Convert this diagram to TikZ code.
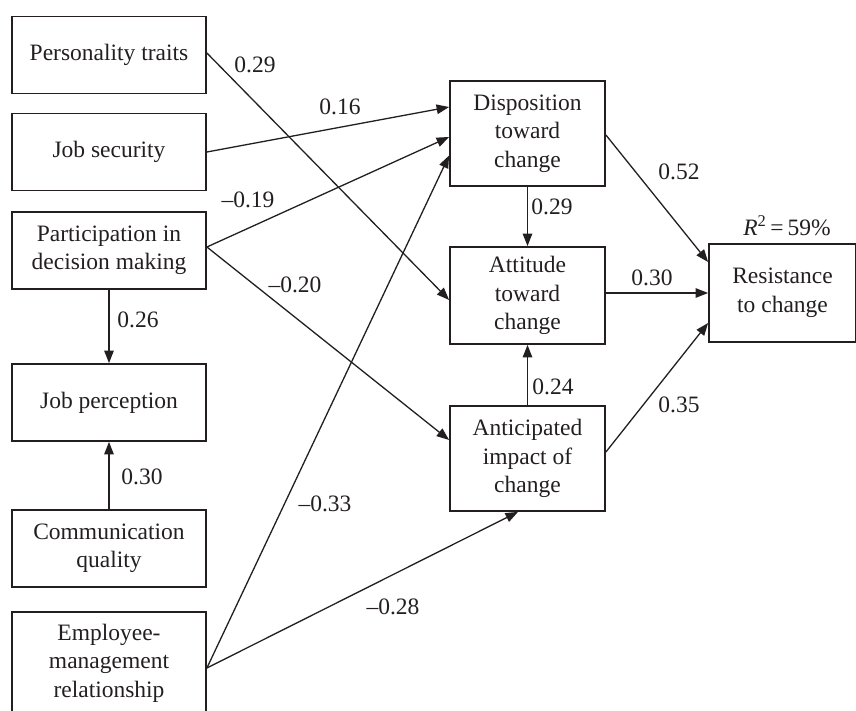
\documentclass[tikz,border=0pt]{standalone}
\usepackage{fontspec}
\setmainfont{Liberation Serif}
\usetikzlibrary{arrows.meta}
\definecolor{ink}{HTML}{231F20}
\begin{document}
\begin{tikzpicture}[x=1pt,y=-1pt,
  box/.style={draw=ink,line width=1.8pt,rectangle,align=center,inner sep=0pt,
    font=\fontsize{23.5}{28.5}\selectfont,text=ink},
  lbox/.style={box,minimum width=194pt,minimum height=77pt},
  mbox/.style={box,minimum width=155pt},
  conn/.style={draw=ink,line width=1.3pt,-{Triangle[length=12.5pt,width=9.5pt]}},
  coef/.style={font=\fontsize{23.5}{28.5}\selectfont,text=ink,inner sep=0pt}]
\useasboundingbox (0,0) rectangle (856,711);
% left column
\node[lbox] (pt) at (109,55) {Personality traits};
\node[lbox] (js) at (109,152) {Job security};
\node[lbox] (pd) at (109,250.5) {Participation in\\decision making};
\node[lbox] (jp) at (109,402.5) {Job perception};
\node[lbox] (cq) at (109,548.5) {Communication\\quality};
\node[lbox,minimum height=102pt] (em) at (109,663) {Employee-\\management\\relationship};
% middle column
\node[mbox,minimum height=105pt] (dc) at (527.5,133.5) {Disposition\\toward\\change};
\node[mbox,minimum height=97pt] (ac) at (527.5,295.5) {Attitude\\toward\\change};
\node[mbox,minimum height=105pt] (ai) at (527.5,458.5) {Anticipated\\impact of\\change};
% right
\node[box,minimum width=147pt,minimum height=98pt] (rc) at (782.5,293) {Resistance\\to change};
% connectors
\draw[conn] ([yshift=2pt]pt.east) -- ([yshift=-4.5pt]ac.west);
\draw[conn] (js.east) -- ([yshift=26.5pt]dc.west);
\draw[conn] ([yshift=3.5pt]pd.east) -- ([yshift=-3.5pt]dc.west);
\draw[conn] ([yshift=3.5pt]pd.east) -- ([yshift=18.5pt]ai.west);
\draw[conn] ([yshift=-5pt]em.east) -- ([yshift=-22pt]dc.west);
\draw[conn] ([yshift=-5pt]em.east) -- ([xshift=-9.5pt]ai.south);
\draw[conn] (pd.south) -- (jp.north);
\draw[conn] (cq.north) -- (jp.south);
\draw[conn] (dc.south) -- (ac.north);
\draw[conn] (ai.north) -- (ac.south);
\draw[conn] ([yshift=-1.5pt]dc.east) -- ([yshift=31pt]rc.west);
\draw[conn] (ac.east |- 0,293) -- (rc.west);
\draw[conn] ([yshift=6.5pt]ai.east) -- ([yshift=-30pt]rc.west);
% coefficients
\node[coef] (l1) at (255,65) {0.29};
\node[coef] (l2) at (340,107) {0.16};
\node[coef] (l3) at (248,200) {\textendash0.19};
\node[coef] (l4) at (295,285) {\textendash0.20};
\node[coef] (l5) at (138,320) {0.26};
\node[coef] (l6) at (142,477) {0.30};
\node[coef] (l7) at (325,504) {\textendash0.33};
\node[coef] (l8) at (393,607) {\textendash0.28};
\node[coef] (l9) at (552,207) {0.29};
\node[coef] (l10) at (679,172) {0.52};
\node[coef] (l11) at (652,278) {0.30};
\node[coef] (l12) at (553,387) {0.24};
\node[coef] (l13) at (679,405) {0.35};
\node[coef] (r2) at (787,226) {\textit{R}\textsuperscript{2}\,=\,59\%};
\end{tikzpicture}
\end{document}
